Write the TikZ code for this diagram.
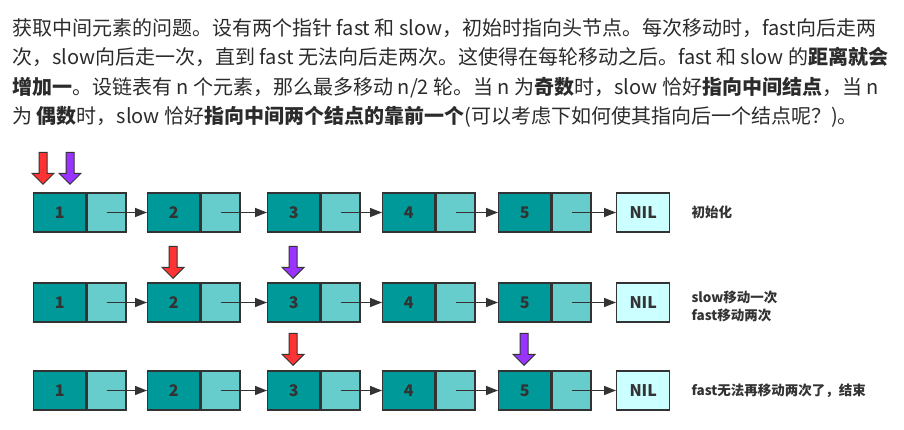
\documentclass[tikz,border=0pt]{standalone}
\usepackage{fontspec}
\setmainfont{Noto Sans CJK SC}
\usetikzlibrary{arrows.meta,positioning,shapes.arrows}
\definecolor{datafill}{HTML}{009999}
\definecolor{ptrfill}{HTML}{66CCCC}
\definecolor{nilfill}{HTML}{CCFFFF}
\definecolor{edgec}{HTML}{333333}
\definecolor{txtc}{HTML}{2B2B2B}
\definecolor{fastc}{HTML}{FF3333}
\definecolor{slowc}{HTML}{9933FF}

\begin{document}
\begin{tikzpicture}[
  x=1pt, y=-1pt,
  dbox/.style={draw=edgec, fill=datafill, line width=1.4pt, minimum width=52pt, minimum height=39pt,
    inner sep=0pt, anchor=west, text=edgec, font=\bfseries\fontsize{16}{16}\selectfont},
  pbox/.style={draw=edgec, fill=ptrfill, line width=1.4pt, minimum width=39pt, minimum height=39pt, inner sep=0pt},
  nilbox/.style={dbox, fill=nilfill, minimum width=53pt},
  link/.style={-{Triangle[length=12pt,width=9pt]}, line width=1.4pt, draw=edgec},
  ptrarrow/.style={single arrow, draw=edgec, line width=1pt, rotate=-90, minimum height=32pt,
    single arrow head extend=7pt, inner sep=3.5pt, anchor=tip},
  note/.style={anchor=west, align=left, text=edgec, font=\bfseries\fontsize{13.5}{18}\selectfont},
  para/.style={anchor=base west, inner sep=0pt, text=txtc, font=\fontsize{20}{20}\selectfont}
]
\useasboundingbox (0,0) rectangle (904,430);

% Paragraph above the lists
\node[para] (l1) at (12,35.6) {获取中间元素的问题。设有两个指针 fast 和 slow，初始时指向头节点。每次移动时，fast向后走两};
\node[para] (l2) at (12,64.9) {次，slow向后走一次，直到 fast 无法向后走两次。这使得在每轮移动之后。fast 和 slow 的\textbf{距离就会}};
\node[para] (l3) at (12,94.2) {\textbf{增加一}。设链表有 n 个元素，那么最多移动 n/2 轮。当 n 为\textbf{奇数}时，slow 恰好\textbf{指向中间结点}，当 n};
\node[para] (l4) at (12,123.5) {为 \textbf{偶数}时，slow 恰好\textbf{指向中间两个结点的靠前一个}(可以考虑下如何使其指向后一个结点呢？)。};

% The three lists (a: start, b: after one move, c: end)
\foreach \r/\y in {a/212.5,b/302.5,c/390.5}{
  \node[dbox] (\r1) at (33,\y)  {1};
  \node[pbox, right=0pt of \r1] (\r1p) {};
  \node[dbox] (\r2) at (147,\y) {2};
  \node[pbox, right=0pt of \r2] (\r2p) {};
  \node[dbox] (\r3) at (267,\y) {3};
  \node[pbox, right=0pt of \r3] (\r3p) {};
  \node[dbox] (\r4) at (382,\y) {4};
  \node[pbox, right=0pt of \r4] (\r4p) {};
  \node[dbox] (\r5) at (498,\y) {5};
  \node[pbox, right=0pt of \r5] (\r5p) {};
  \node[nilbox] (\r0) at (616,\y) {NIL};
  \draw[link] (\r1p.center) -- (\r2);
  \draw[link] (\r2p.center) -- (\r3);
  \draw[link] (\r3p.center) -- (\r4);
  \draw[link] (\r4p.center) -- (\r5);
  \draw[link] (\r5p.center) -- (\r0);
}

% fast (red) and slow (purple) pointers
\node[ptrarrow, fill=fastc] (fa) at (43,185)  {};
\node[ptrarrow, fill=slowc] (sa) at (70,185)  {};
\node[ptrarrow, fill=fastc] (fb) at (173,279) {};
\node[ptrarrow, fill=slowc] (sb) at (293,279) {};
\node[ptrarrow, fill=fastc] (fc) at (293,366) {};
\node[ptrarrow, fill=slowc] (sc) at (524,366) {};

% Step notes
\node[note] (na) at (688,212.5) {初始化};
\node[note] (nb) at (688,306)   {slow移动一次\\fast移动两次};
\node[note] (nc) at (688,391)   {fast无法再移动两次了，结束};
\end{tikzpicture}
\end{document}
